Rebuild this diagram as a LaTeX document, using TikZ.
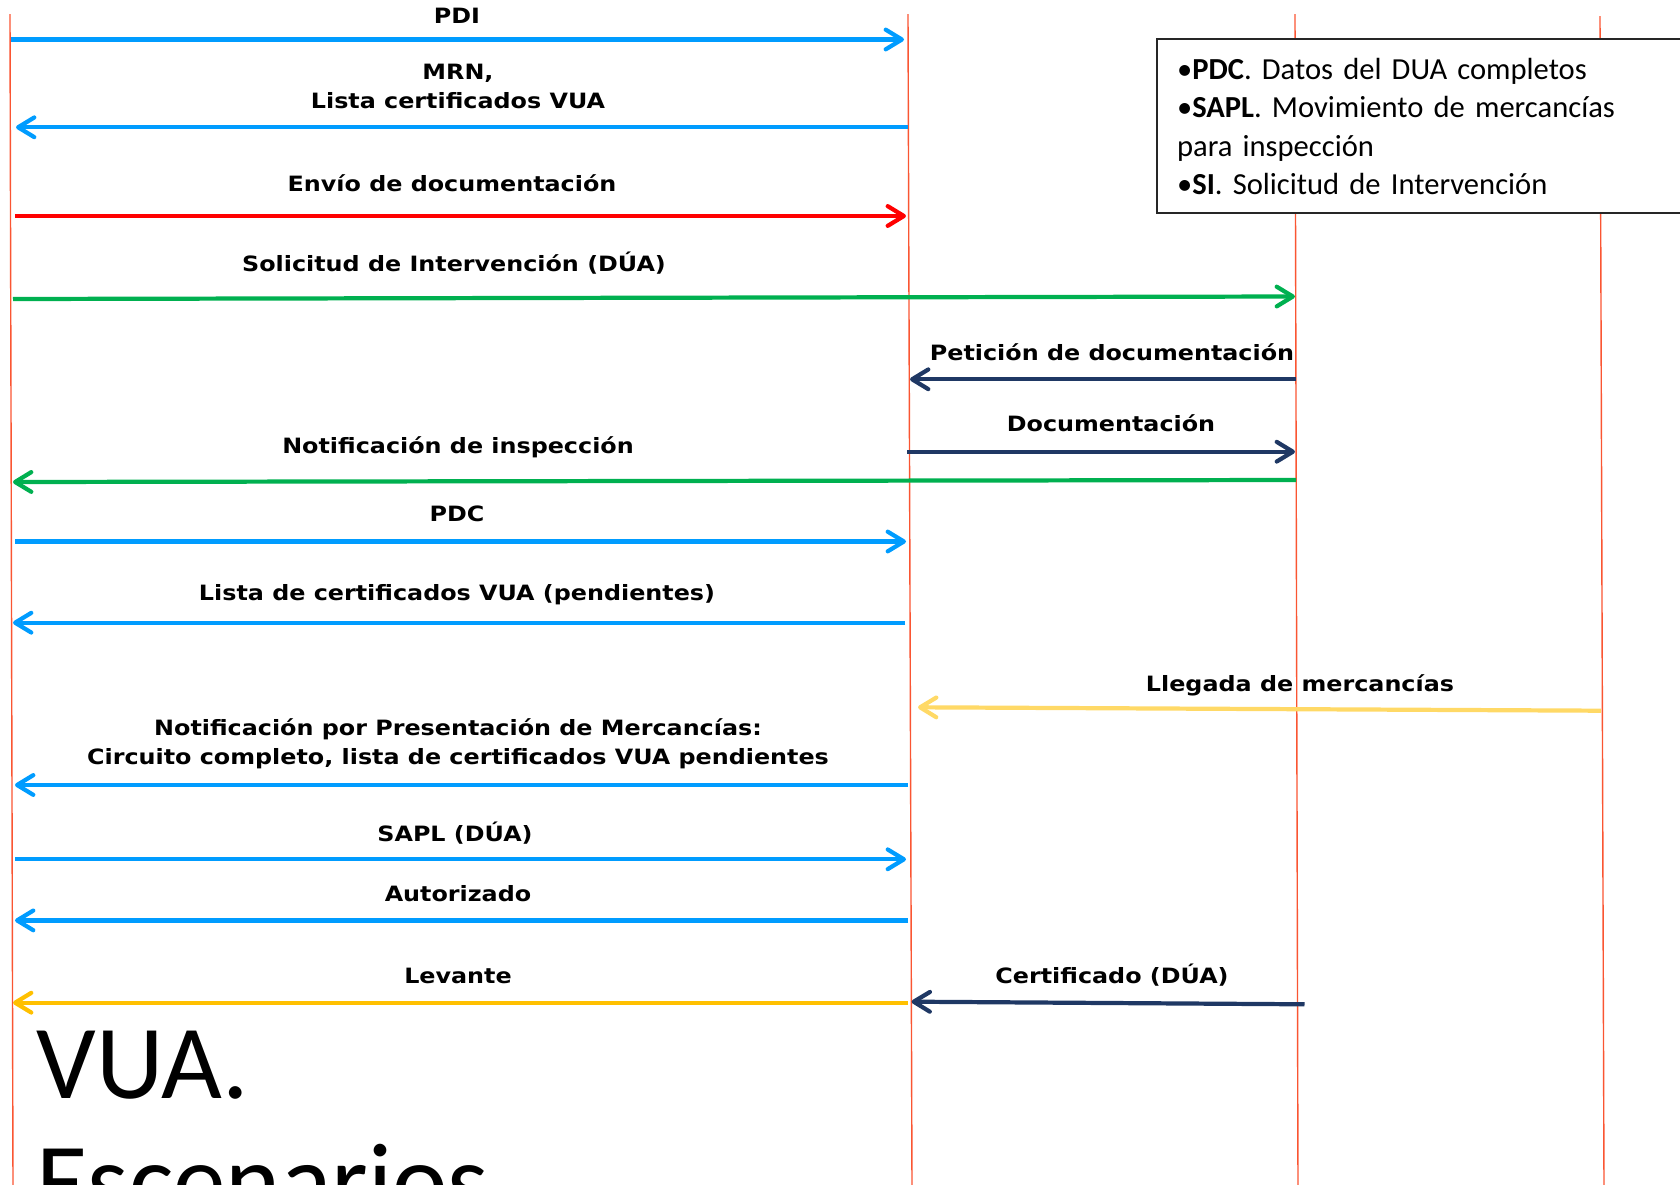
\documentclass[tikz,border=0pt]{standalone}
\usepackage{fontspec}
\setmainfont{Carlito}
\newfontfamily\msgfont{DejaVu Sans}[FakeStretch=1.13]
\usetikzlibrary{arrows.meta}
\definecolor{lifered}{RGB}{250,85,50}
\definecolor{msgblue}{RGB}{0,156,255}
\definecolor{msgred}{RGB}{255,0,0}
\definecolor{msggreen}{RGB}{0,176,80}
\definecolor{msgnavy}{RGB}{31,56,100}
\definecolor{msgpale}{RGB}{255,217,102}
\definecolor{msggold}{RGB}{255,192,0}
\begin{document}
\begin{tikzpicture}[x=0.1mm,y=-0.1mm]
\tikzstyle{every node}+=[inner sep=0pt]
\tikzstyle{lifeline}=[lifered, line width=0.4pt]
\tikzstyle{msg}=[line width=1.2pt, -{Straight Barb[length=4.6pt,width=5.6pt,round]}]
\tikzstyle{lbl}=[font=\msgfont\bfseries\fontsize{6}{8.1}\selectfont, anchor=base, align=center]
\useasboundingbox (0,0) rectangle (1680,1185);
\clip (0,0) rectangle (1680,1185);
% lifelines
\draw [lifeline] (10,14) -- (13,1185);
\draw [lifeline] (908,14) -- (912,1185);
\draw [lifeline] (1295,14) -- (1298,1185);
\draw [lifeline] (1600,16) -- (1604,1185);
% legend
\node [draw=black!85, line width=0.6pt, fill=white, anchor=north west, text width=50mm, inner xsep=2mm, minimum height=17.4mm, align=left, font=\fontsize{8.7}{10.9}\selectfont] (key) at (1156,38.3) {\textbullet\textbf{PDC}. Datos del DUA completos\\
\textbullet\textbf{SAPL}. Movimiento de mercancías\\
para inspección\\
\textbullet\textbf{SI}. Solicitud de Intervención};
% messages
\coordinate (pdiA) at (11,39.5);
\coordinate (pdiB) at (904,39.5);
\draw [msg, msgblue] (pdiA) -- (pdiB);
\node [lbl] (pdi) at (457,23.3) {PDI};
\coordinate (mrnA) at (908,127.3);
\coordinate (mrnB) at (16,127.3);
\draw [msg, msgblue] (mrnA) -- (mrnB);
\node [lbl] (mrn) at (458,108.3) {MRN,\\ Lista certificados VUA};
\coordinate (envA) at (15,216);
\coordinate (envB) at (906,216);
\draw [msg, msgred] (envA) -- (envB);
\node [lbl] (env) at (452,191.7) {Envío de documentación};
\coordinate (solA) at (13,299);
\coordinate (solB) at (1295,296.5);
\draw [msg, msggreen] (solA) -- (solB);
\node [lbl] (sol) at (454,271.7) {Solicitud de Intervención (DÚA)};
\coordinate (petA) at (1296,379.3);
\coordinate (petB) at (910,379.3);
\draw [msg, msgnavy] (petA) -- (petB);
\node [lbl] (pet) at (1112,360) {Petición de documentación};
\coordinate (docA) at (907,451.7);
\coordinate (docB) at (1295,451.7);
\draw [msg, msgnavy] (docA) -- (docB);
\node [lbl] (doc) at (1111,431.7) {Documentación};
\coordinate (insA) at (1296,480);
\coordinate (insB) at (13,482);
\draw [msg, msggreen] (insA) -- (insB);
\node [lbl] (ins) at (458,453) {Notificación de inspección};
\coordinate (pdcA) at (15,541.5);
\coordinate (pdcB) at (906,541.5);
\draw [msg, msgblue] (pdcA) -- (pdcB);
\node [lbl] (pdc) at (457,521.8) {PDC};
\coordinate (lisA) at (905,622.7);
\coordinate (lisB) at (13,622.7);
\draw [msg, msgblue] (lisA) -- (lisB);
\node [lbl] (lis) at (457,600) {Lista de certificados VUA (pendientes)};
\coordinate (lleA) at (1601,710.7);
\coordinate (lleB) at (918,707.3);
\draw [msg, msgpale] (lleA) -- (lleB);
\node [lbl] (lle) at (1300,691) {Llegada de mercancías};
\coordinate (preA) at (908,785);
\coordinate (preB) at (15,785);
\draw [msg, msgblue] (preA) -- (preB);
\node [lbl] (pre) at (458,764) {Notificación por Presentación de Mercancías:\\ Circuito completo, lista de certificados VUA pendientes};
\coordinate (sapA) at (15,859.3);
\coordinate (sapB) at (906,859.3);
\draw [msg, msgblue] (sapA) -- (sapB);
\node [lbl] (sap) at (455,841) {SAPL (DÚA)};
\coordinate (autA) at (908,920.4);
\coordinate (autB) at (15,920.4);
\draw [msg, msgblue] (autA) -- (autB);
\node [lbl] (aut) at (458,901) {Autorizado};
\coordinate (levA) at (908,1002.7);
\coordinate (levB) at (13,1002.7);
\draw [msg, msggold] (levA) -- (levB);
\node [lbl] (lev) at (458,983.3) {Levante};
\coordinate (cerA) at (1304.5,1004.3);
\coordinate (cerB) at (911.6,1001.7);
\draw [msg, msgnavy] (cerA) -- (cerB);
\node [lbl] (cer) at (1112,983.3) {Certificado (DÚA)};
% title
\node [anchor=base west, align=left, font=\fontsize{29.9}{33.5}\selectfont] (title) at (36,1216) {VUA.\\ Escenarios};
\end{tikzpicture}
\end{document}
